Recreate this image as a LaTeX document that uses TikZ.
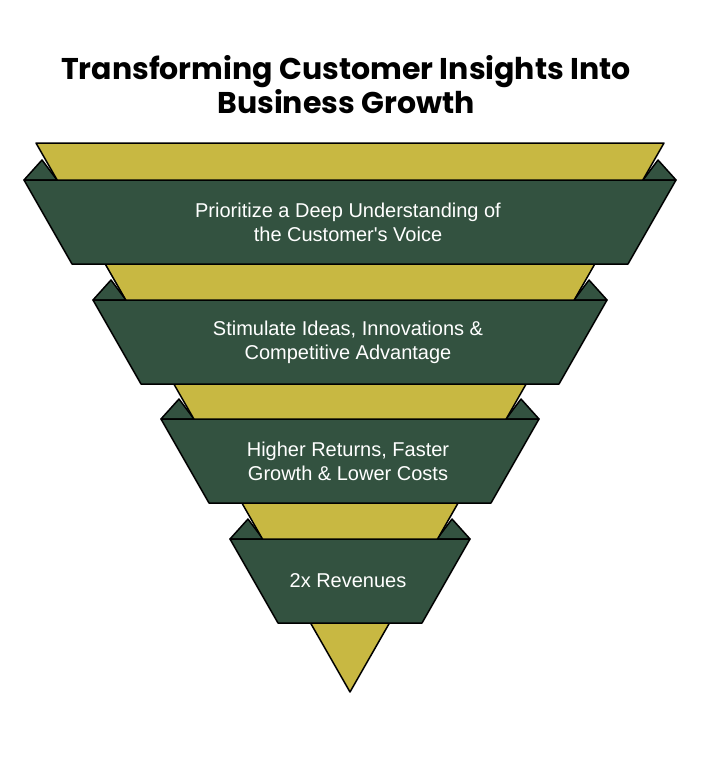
\documentclass[tikz,border=0pt]{standalone}
\usepackage{fontspec}
\newfontfamily\bandfont{Liberation Sans}
\newfontfamily\titlefont{Poppins}
\usepackage{tikz}

\definecolor{funnelgold}{RGB}{200,184,66}
\definecolor{bandgreen}{RGB}{51,82,64}
\tikzset{
    gold/.style={fill=funnelgold, draw=black},
    band/.style={fill=bandgreen, draw=black},
    bandtext/.style={text=white, align=center, font=\bandfont\fontsize{20}{24}\selectfont},
}

\begin{document}
\begin{tikzpicture}[x=1pt, y=-1pt, line width=1.5pt, line join=round]
    \useasboundingbox (0,0) rectangle (701,757);

    \node[align=center, font=\titlefont\bfseries\fontsize{30}{34}\selectfont] (title) at (346,85) {Transforming Customer Insights Into\\Business Growth};

    \filldraw[band] (24,180) -- (42,160) -- (57,180) -- cycle;
    \filldraw[band] (676,180) -- (658,160) -- (643,180) -- cycle;
    \filldraw[band] (93,300) -- (111,280) -- (126,300) -- cycle;
    \filldraw[band] (607,300) -- (589,280) -- (574,300) -- cycle;
    \filldraw[band] (161,419) -- (179,399) -- (194,419) -- cycle;
    \filldraw[band] (539,419) -- (521,399) -- (506,419) -- cycle;
    \filldraw[band] (230,539) -- (248,519) -- (263,539) -- cycle;
    \filldraw[band] (470,539) -- (452,519) -- (437,539) -- cycle;

    \filldraw[gold] (36,143) -- (664,143) -- (350,692) -- cycle;

    \filldraw[band] (24,180) -- (676,180) -- (628,264) -- (72,264) -- cycle;
    \node[bandtext] (voice) at (348,222) {Prioritize a Deep Understanding of\\the Customer's Voice};

    \filldraw[band] (93,300) -- (607,300) -- (559,384) -- (141,384) -- cycle;
    \node[bandtext] (ideas) at (348,342) {Stimulate Ideas, Innovations \&\\Competitive Advantage};

    \filldraw[band] (161,419) -- (539,419) -- (491,503) -- (209,503) -- cycle;
    \node[bandtext] (returns) at (348,461) {Higher Returns, Faster\\Growth \& Lower Costs};

    \filldraw[band] (230,539) -- (470,539) -- (422,623) -- (278,623) -- cycle;
    \node[bandtext] (revenue) at (348,581) {2x Revenues};
\end{tikzpicture}
\end{document}
